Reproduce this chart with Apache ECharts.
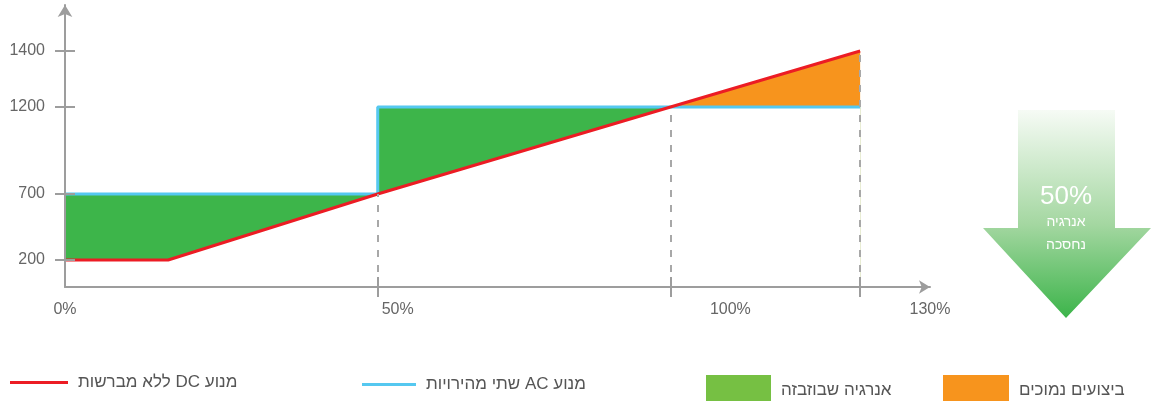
<!DOCTYPE html>
<html>
<head>
<meta charset="utf-8">
<script src="https://cdn.jsdelivr.net/npm/echarts@6/dist/echarts.min.js"></script>
<style>
  html, body { margin: 0; padding: 0; background: #fff; }
  #main { width: 1152px; height: 401px; }
</style>
</head>
<body>
<div id="main" dir="rtl"></div>
<script>
// נתוני הגרף
var xLabels = [0, 50, 100, 130];          // תוויות ציר X (%)
var breakPoints = [47, 91, 119.5];        // קווים מקווקווים
var yLabels = [200, 700, 1200, 1400];     // תוויות ציר Y

// מנוע DC ללא מברשות
var dcX = [0, 15.5, 47, 91, 119.5];
var dcY = [200, 200, 700, 1200, 1400];
// מנוע AC שתי מהירויות
var acX = [0, 47, 47, 119.5];
var acY = [700, 700, 1200, 1200];
var crossX = 91;  // נקודת החיתוך

var names = {
    dc: 'מנוע DC ללא מברשות',
    ac: 'מנוע AC שתי מהירויות',
    waste: 'אנרגיה שבוזבזה',
    low: 'ביצועים נמוכים'
};

// ציר Y סכמטי (לא לינארי) - ערך -> מיקום על הציר
var yScaleVal = [0, 200, 700, 1200, 1400];
var yScalePos = [0, 27, 93, 180, 236];
var yTop = 282;

function warp(v) {
    for (var i = 1; i < yScaleVal.length; i++) {
        if (v <= yScaleVal[i]) {
            var t = (v - yScaleVal[i - 1]) / (yScaleVal[i] - yScaleVal[i - 1]);
            return yScalePos[i - 1] + t * (yScalePos[i] - yScalePos[i - 1]);
        }
    }
    return yScalePos[yScalePos.length - 1];
}

function pts(xs, ys) {
    var out = [];
    for (var i = 0; i < xs.length; i++) out.push([xs[i], warp(ys[i])]);
    return out;
}

function dcAt(x) {
    for (var i = 1; i < dcX.length; i++) {
        if (x <= dcX[i]) {
            var t = (x - dcX[i - 1]) / (dcX[i] - dcX[i - 1]);
            return dcY[i - 1] + t * (dcY[i] - dcY[i - 1]);
        }
    }
    return dcY[dcY.length - 1];
}

var dcData = pts(dcX, dcY);
var acData = pts(acX, acY);

// המעטפת התחתונה: DC עד החיתוך, AC אחריו
var lowerData = [];
dcData.forEach(function (p) { if (p[0] <= crossX) lowerData.push(p); });
acData.forEach(function (p) { if (p[0] > crossX) lowerData.push(p); });

var guideLines = breakPoints.map(function (x) {
    return [{ coord: [x, 0] }, { coord: [x, warp(dcAt(x))] }];
});

var yTickPos = yLabels.map(warp);

var axisColor = '#9d9d9d';
var fontFamily = "'Liberation Sans', Arial, sans-serif";

var chart = echarts.init(document.getElementById('main'));

function legendBox(name, left, top, w, h, color) {
    return {
        data: [{ name: name, itemStyle: color ? { color: color } : undefined }],
        left: left,
        top: top,
        icon: 'rect',
        itemWidth: w,
        itemHeight: h,
        selectedMode: false,
        textStyle: { fontSize: 17, color: '#555', fontFamily: fontFamily, padding: [0, 0, 0, 5] }
    };
}

chart.setOption({
    animation: false,
    textStyle: { fontFamily: fontFamily },
    grid: [
        { left: 65, right: 222, top: 5, bottom: 114 },
        { left: 65, right: 222, top: 5, bottom: 114 }
    ],
    xAxis: [{
        type: 'value', gridIndex: 0, min: 0, max: 130, z: 5,
        axisLine: { show: true, symbol: ['none', 'arrow'], symbolSize: [10, 11],
            lineStyle: { color: axisColor, width: 2 } },
        axisTick: { show: true, customValues: breakPoints, length: 10,
            lineStyle: { color: axisColor, width: 2 } },
        axisLabel: { customValues: xLabels, margin: 15, fontSize: 16, color: '#666',
            fontFamily: fontFamily,
            formatter: function (v) { return v + '%'; } },
        splitLine: { show: false }
    }, {
        type: 'value', gridIndex: 1, min: 0, max: 130, z: 5,
        axisLine: { show: false },
        axisTick: { show: true, inside: true, customValues: breakPoints, length: 10,
            lineStyle: { color: axisColor, width: 2 } },
        axisLabel: { show: false },
        splitLine: { show: false }
    }],
    yAxis: [{
        type: 'value', gridIndex: 0, min: 0, max: yTop, z: 5,
        axisLine: { show: true, symbol: ['none', 'arrow'], symbolSize: [11, 12],
            lineStyle: { color: axisColor, width: 2 } },
        axisTick: { show: true, customValues: yTickPos, length: 10,
            lineStyle: { color: axisColor, width: 2 } },
        axisLabel: { customValues: yTickPos, margin: 20, fontSize: 16, color: '#666',
            fontFamily: fontFamily,
            formatter: function (v) {
                var best = 0;
                yTickPos.forEach(function (p, i) {
                    if (Math.abs(p - v) < Math.abs(yTickPos[best] - v)) best = i;
                });
                return String(yLabels[best]);
            } },
        splitLine: { show: false }
    }, {
        type: 'value', gridIndex: 1, min: 0, max: yTop, z: 5,
        axisLine: { show: false },
        axisTick: { show: true, inside: true, customValues: yTickPos, length: 10,
            lineStyle: { color: axisColor, width: 2 } },
        axisLabel: { show: false },
        splitLine: { show: false }
    }],
    legend: [
        legendBox(names.dc, 5, 369, 58, 3),
        legendBox(names.ac, 357, 371, 54, 3),
        legendBox(names.waste, 701, 370, 65, 30, '#76c043'),
        legendBox(names.low, 938, 370, 66, 30, '#f7941d')
    ],
    series: [{
        name: names.low, type: 'line', data: dcData, symbol: 'none', silent: true,
        itemStyle: { color: '#f7941d' },
        lineStyle: { width: 0 },
        areaStyle: { color: '#f7941d', opacity: 1 }
    }, {
        name: names.waste, type: 'line', data: acData, symbol: 'none', silent: true,
        itemStyle: { color: '#3db54a' },
        lineStyle: { width: 0 },
        areaStyle: { color: '#3db54a', opacity: 1 }
    }, {
        name: 'lower', type: 'line', data: lowerData, symbol: 'none', silent: true,
        lineStyle: { width: 0 },
        areaStyle: { color: '#ffffff', opacity: 1 }
    }, {
        name: names.ac, type: 'line', data: acData, symbol: 'none', silent: true,
        itemStyle: { color: '#55c8f0' },
        lineStyle: { color: '#55c8f0', width: 3 }
    }, {
        name: names.dc, type: 'line', data: dcData, symbol: 'none', silent: true,
        itemStyle: { color: '#ec1c24' },
        lineStyle: { color: '#ec1c24', width: 3 },
        markLine: {
            silent: true, symbol: 'none', label: { show: false },
            lineStyle: { color: '#a8a8a8', width: 2, type: [7, 8] },
            data: guideLines
        }
    }],
    graphic: [{
        type: 'polygon',
        shape: { points: [[1018, 110], [1115, 110], [1115, 228], [1151, 228],
            [1066, 318], [983, 228], [1018, 228]] },
        style: {
            fill: new echarts.graphic.LinearGradient(0, 0, 0, 1, [
                { offset: 0, color: '#f6fbf5' },
                { offset: 0.55, color: '#a4d7a1' },
                { offset: 1, color: '#3cb44a' }
            ])
        }
    }, {
        type: 'text', x: 1066, y: 197,
        style: { text: '50%', fill: '#fff', fontSize: 26, fontFamily: fontFamily,
            align: 'center', verticalAlign: 'middle' }
    }, {
        type: 'text', x: 1066, y: 222,
        style: { text: 'אנרגיה', fill: '#fff', fontSize: 14, fontFamily: fontFamily,
            align: 'center', verticalAlign: 'middle' }
    }, {
        type: 'text', x: 1066, y: 245,
        style: { text: 'נחסכה', fill: '#fff', fontSize: 14, fontFamily: fontFamily,
            align: 'center', verticalAlign: 'middle' }
    }]
});
</script>
</body>
</html>
